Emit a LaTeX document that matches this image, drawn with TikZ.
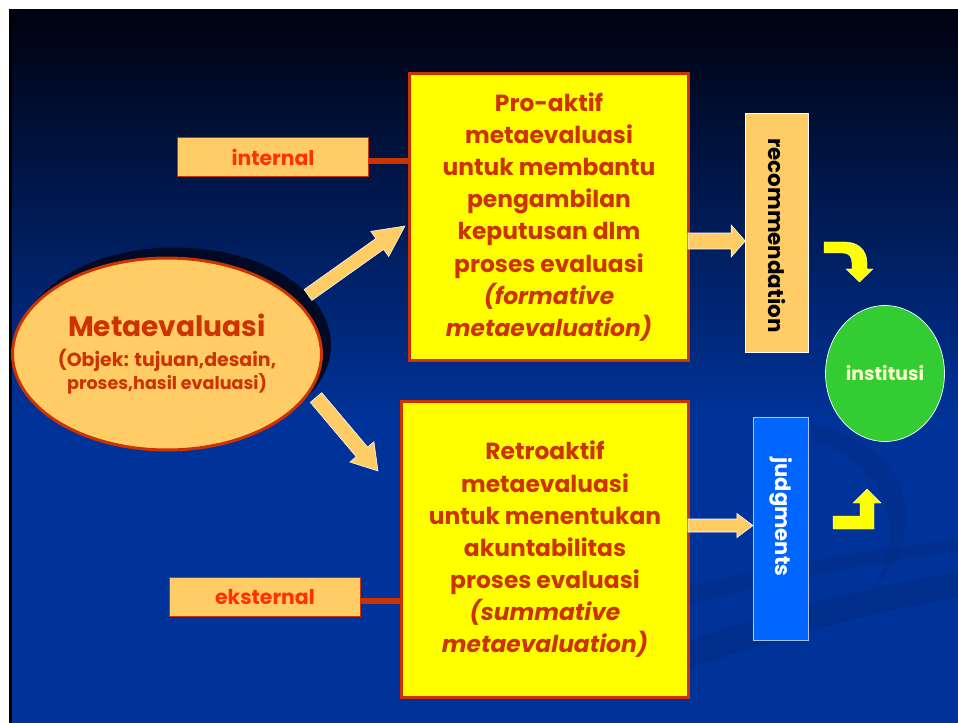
\documentclass[tikz,border=0pt]{standalone}
\usepackage{fontspec}
\setmainfont{Poppins}
\usetikzlibrary{calc,shapes.geometric}

\definecolor{bgblue}{HTML}{003399}
\definecolor{bgmid}{HTML}{00277A}
\definecolor{bgtop}{HTML}{000312}
\definecolor{swoosh}{HTML}{002A80}
\definecolor{boxred}{HTML}{CC3300}
\definecolor{tagred}{HTML}{FF3300}
\definecolor{yellowfill}{HTML}{FFFF00}
\definecolor{peach}{HTML}{FFCC66}
\definecolor{judgeblue}{HTML}{0066FF}
\definecolor{judgeedge}{HTML}{A8C4FF}
\definecolor{instgreen}{HTML}{33CC33}
\definecolor{insttext}{HTML}{FFFFCC}
\definecolor{shadowink}{HTML}{000A24}

% block arrow: #1 tail, #2 tip, #3 half shaft width, #4 half head width, #5 head length, #6 style
\newcommand\blockarrow[6]{%
  \path ($(#2)!#5!(#1)$) coordinate (ba-h);
  \draw[#6] ($(#1)!#3!90:(#2)$) -- ($(ba-h)!#3!-90:(#1)$) -- ($(ba-h)!#4!-90:(#1)$)
    -- (#2) -- ($(ba-h)!#4!90:(#1)$) -- ($(ba-h)!#3!90:(#1)$) -- ($(#1)!#3!-90:(#2)$) -- cycle;}

\newcommand\metabig{\fontsize{16}{18}\selectfont}
\newcommand\metasmall{\fontsize{10.8}{14}\selectfont}

\tikzset{
  yellowbox/.style={draw=boxred, line width=0.06cm, fill=yellowfill, text=boxred,
    align=center, font=\bfseries\fontsize{13.3}{18.3}\selectfont, inner sep=0pt},
  tagbox/.style={draw=boxred, line width=0.02cm, fill=peach, text=tagred,
    font=\bfseries\fontsize{11.6}{14}\selectfont, minimum width=3.82cm,
    minimum height=0.78cm, inner sep=0pt},
  tie/.style={draw=boxred, line width=0.11cm},
  blockarr/.style={fill=peach, draw=white, line width=0.3pt},
  bendarr/.style={fill=yellowfill, draw=white, line width=0.2pt},
}

\begin{document}
\begin{tikzpicture}[x=0.02cm, y=-0.02cm]
\useasboundingbox (0,0) rectangle (958,723);

% slide background
\fill[white] (0,0) rectangle (958,723);
\fill[bgblue] (9,9) rectangle (958,723);
\shade[top color=bgtop, middle color=bgmid, bottom color=bgblue] (9,20) rectangle (958,420);
\fill[bgtop] (9,9) rectangle (958,21);
\fill[black] (9,9) rectangle (11.5,723);

% faint swooshes of the slide design
\fill[swoosh, opacity=0.45] (690,640) .. controls (790,605) and (880,585) .. (958,572)
  -- (958,598) .. controls (880,610) and (790,635) .. (690,668) -- cycle;
\fill[swoosh, opacity=0.35] (690,585) .. controls (780,565) and (870,548) .. (958,540)
  -- (958,552) .. controls (870,562) and (780,582) .. (690,605) -- cycle;
\fill[swoosh, opacity=0.4] (812,425) .. controls (900,440) and (940,520) .. (872,592)
  .. controls (912,520) and (880,462) .. (812,440) -- cycle;

% main nodes
\node[yellowbox, minimum width=5.58cm, minimum height=5.74cm] (pro) at (549,217)
  {Pro-aktif\\metaevaluasi\\untuk membantu\\pengambilan\\keputusan dlm\\proses evaluasi\\
   \textit{(formative}\\\textit{metaevaluation)}};
\node[yellowbox, minimum width=5.74cm, minimum height=5.92cm] (retro) at (545,549.5)
  {Retroaktif\\metaevaluasi\\untuk menentukan\\akuntabilitas\\proses evaluasi\\
   \textit{(summative}\\\textit{metaevaluation)}};

\node[tagbox] (internal) at (273,157) {internal};
\node[tagbox] (eksternal) at (265,597) {eksternal};

% Metaevaluasi ellipse with its dark drop shadow
\fill[shadowink] (175,345) ellipse [x radius=156, y radius=97.5];
\node[ellipse, draw=boxred, line width=0.06cm, fill=peach, text=boxred,
  minimum width=6.18cm, minimum height=3.84cm, inner sep=0pt, align=center,
  font=\bfseries] (meta) at (167,354)
  {\metabig Metaevaluasi\\[5pt]\metasmall (Objek: tujuan,desain,\\proses,hasil evaluasi)};

\node[rotate=-90, draw=white, line width=0.3pt, fill=peach, text=black,
  minimum width=4.78cm, minimum height=1.26cm, inner sep=0pt,
  font=\bfseries\fontsize{12.2}{14}\selectfont] (rec) at (777,233) {recommendation\hspace*{-0.1cm}};
\node[rotate=-90, draw=judgeedge, line width=0.6pt, fill=judgeblue, text=white,
  minimum width=4.46cm, minimum height=1.10cm, inner sep=0pt,
  font=\bfseries\fontsize{12}{14}\selectfont] (judge) at (781,529) {judgments\hspace*{0.48cm}};

\node[ellipse, draw=white, line width=0.4pt, fill=instgreen, text=insttext,
  minimum width=2.38cm, minimum height=2.72cm, inner sep=0pt,
  font=\bfseries\fontsize{10.7}{13}\selectfont] (inst) at (885,373.5) {institusi};

% ties from the tags to the boxes
\draw[tie] ([yshift=-0.08cm]internal.east) -- ([yshift=-0.08cm]internal.east -| pro.west);
\draw[tie] ([yshift=-0.08cm]eksternal.east) -- ([yshift=-0.08cm]eksternal.east -| retro.west);

% block arrows
\coordinate (upTail) at (308,295);
\coordinate (upTip) at (405,226);
\coordinate (dnTail) at (316,397.5);
\coordinate (dnTip) at (378,471);
\coordinate (recTail) at (688,241);
\coordinate (recTip) at (rec.south |- recTail);
\coordinate (judTail) at (688,525.5);
\coordinate (judTip) at (judge.south |- judTail);
\blockarrow{upTail}{upTip}{0.134cm}{0.31cm}{0.62cm}{blockarr}
\blockarrow{dnTail}{dnTip}{0.15cm}{0.316cm}{0.5cm}{blockarr}
\blockarrow{recTail}{recTip}{0.16cm}{0.32cm}{0.28cm}{blockarr}
\blockarrow{judTail}{judTip}{0.13cm}{0.24cm}{0.32cm}{blockarr}

% yellow arrows towards the institution
\draw[bendarr] (824,242) -- (845,242) .. controls (858,242) and (867,250) .. (867,263)
  -- (867,269) -- (873,269) -- (859.5,282) -- (846,269) -- (852,269) -- (852,263)
  .. controls (852,257) and (849,253) .. (843,253) -- (824,253) -- cycle;
\draw[bendarr] (833,516) -- (860,516) -- (860,503) -- (853,503) -- (867,489)
  -- (881,503) -- (874,503) -- (874,529) -- (833,529) -- cycle;
\end{tikzpicture}
\end{document}
